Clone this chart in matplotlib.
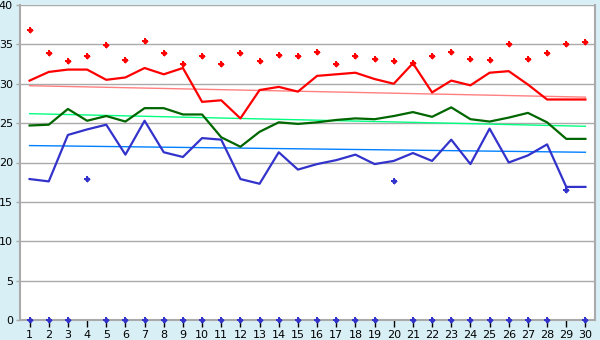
import numpy as np
import matplotlib
matplotlib.use("Agg")
import matplotlib.pyplot as plt

days = list(range(1, 31))

# daily maxima (red points)
max_vals = [36.8, 33.9, 32.9, 33.5, 34.9, 33.0, 35.4, 33.9, 32.5, 33.5,
            32.5, 33.9, 32.9, 33.6, 33.5, 34.0, 32.5, 33.5, 33.2, 32.9,
            32.6, 33.5, 34.0, 33.2, 33.0, 35.1, 33.1, 33.9, 35.0, 35.3]

# red line
high_vals = [30.4, 31.5, 31.8, 31.8, 30.5, 30.8, 32.0, 31.2, 32.0, 27.7,
             27.9, 25.6, 29.2, 29.6, 29.0, 31.0, 31.2, 31.4, 30.6, 30.0,
             32.6, 28.9, 30.4, 29.8, 31.4, 31.6, 29.9, 28.0, 28.0, 28.0]

# green line
mid_vals = [24.7, 24.8, 26.8, 25.3, 25.9, 25.2, 26.9, 26.9, 26.1, 26.1,
            23.2, 22.0, 23.9, 25.1, 24.9, 25.1, 25.4, 25.6, 25.5, 25.9,
            26.4, 25.8, 27.0, 25.5, 25.2, 25.7, 26.3, 25.1, 23.0, 23.0]

# blue line
low_vals = [17.9, 17.6, 23.5, 24.2, 24.8, 21.0, 25.3, 21.3, 20.7, 23.1,
            22.9, 17.9, 17.3, 21.3, 19.1, 19.8, 20.3, 21.0, 19.8, 20.2,
            21.2, 20.2, 22.9, 19.8, 24.3, 20.0, 20.9, 22.3, 16.9, 16.9]

# blue points (daily minima)
min_vals = [0, 0, 0, 17.9, 0, 0, 0, 0, 0, 0,
            0, 0, 0, 0, 0, 0, 0, 0, 0, 17.6,
            0, 0, 0, 0, 0, 0, 0, 0, 16.5, 0]

# trend line end points
high_trend = [29.75, 28.3]
mid_trend = [26.2, 24.6]
low_trend = [22.15, 21.3]

bg = "#d9eff6"
fig = plt.figure(figsize=(6, 3.4), dpi=100, facecolor=bg)
ax = fig.add_axes([20 / 600, 20 / 340, 575 / 600, 315 / 340])
ax.set_facecolor("white")

ax.yaxis.grid(True, color="#aaaaaa", linewidth=1)
ax.set_axisbelow(True)

ends = [days[0], days[-1]]
ax.plot(ends, high_trend, color="#ff8080", linewidth=1, zorder=2)
ax.plot(ends, mid_trend, color="#00ff80", linewidth=1, zorder=2)
ax.plot(ends, low_trend, color="#0080ff", linewidth=1, zorder=2)

ax.plot(days, high_vals, color="#ff0000", linewidth=1.6, zorder=3)
ax.plot(days, mid_vals, color="#006600", linewidth=1.6, zorder=3)
ax.plot(days, low_vals, color="#3333cc", linewidth=1.6, zorder=3)

for m, s in [("D", 3.2), ("P", 4.5)]:
    ax.plot(days, max_vals, linestyle="none", marker=m, markersize=s,
            color="#ff0000", markeredgewidth=0, zorder=4)
    ax.plot(days, min_vals, linestyle="none", marker=m, markersize=s,
            color="#3333cc", markeredgewidth=0, zorder=4, clip_on=False)

ax.set_xlim(0.5, 30.5)
ax.set_ylim(0, 40)
ax.set_xticks(days)
ax.set_yticks(range(0, 41, 5))

for side in ["left", "bottom", "right", "top"]:
    ax.spines[side].set_color("#aaaaaa")
    ax.spines[side].set_linewidth(1.5)
ax.spines["top"].set_visible(False)

ax.tick_params(axis="x", direction="out", length=5, width=1, color="black",
               labelsize=8, pad=2)
ax.tick_params(axis="y", direction="out", length=3, width=1, color="#aaaaaa",
               labelsize=8, pad=2)

fig.savefig("out.png", dpi=100, facecolor=bg)
